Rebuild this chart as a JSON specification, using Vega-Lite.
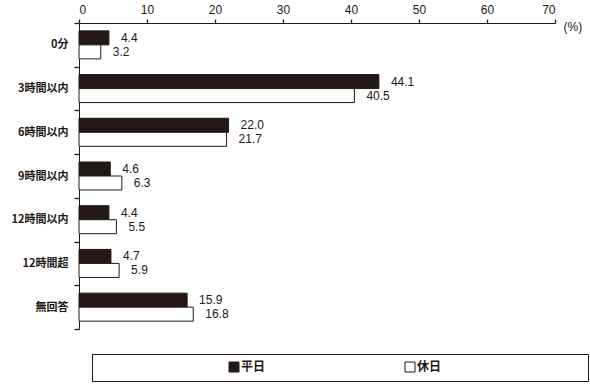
{
  "$schema": "https://vega.github.io/schema/vega-lite/v6.json",
  "width": 476,
  "height": 306,
  "autosize": {"type": "none"},
  "padding": {"left": 79, "top": 23, "right": 35, "bottom": 61},
  "background": "white",
  "config": {"view": {"stroke": null}},
  "data": {"values": [
    {"cat": "0分", "series": "平日", "value": 4.4},
    {"cat": "0分", "series": "休日", "value": 3.2},
    {"cat": "3時間以内", "series": "平日", "value": 44.1},
    {"cat": "3時間以内", "series": "休日", "value": 40.5},
    {"cat": "6時間以内", "series": "平日", "value": 22.0},
    {"cat": "6時間以内", "series": "休日", "value": 21.7},
    {"cat": "9時間以内", "series": "平日", "value": 4.6},
    {"cat": "9時間以内", "series": "休日", "value": 6.3},
    {"cat": "12時間以内", "series": "平日", "value": 4.4},
    {"cat": "12時間以内", "series": "休日", "value": 5.5},
    {"cat": "12時間超", "series": "平日", "value": 4.7},
    {"cat": "12時間超", "series": "休日", "value": 5.9},
    {"cat": "無回答", "series": "平日", "value": 15.9},
    {"cat": "無回答", "series": "休日", "value": 16.8}
  ]},
  "encoding": {
    "y": {
      "field": "cat", "type": "nominal",
      "sort": ["0分", "3時間以内", "6時間以内", "9時間以内", "12時間以内", "12時間超", "無回答"],
      "scale": {"paddingInner": 0, "paddingOuter": 0},
      "axis": {
        "title": null, "domainColor": "#231815", "tickColor": "#231815",
        "tickBand": "extent", "tickSize": 5, "tickWidth": 1.3, "labelPadding": 6,
        "labelFont": "Noto Sans CJK JP", "labelFontSize": 11, "labelFontWeight": "bold",
        "labelColor": "#231815"
      }
    },
    "yOffset": {
      "field": "series", "type": "nominal", "sort": ["平日", "休日"],
      "scale": {"paddingOuter": 0.56, "paddingInner": 0}
    },
    "x": {
      "field": "value", "type": "quantitative",
      "scale": {"domain": [0, 70], "nice": false},
      "axis": {
        "orient": "top", "tickCount": 7, "grid": false,
        "domainColor": "#231815", "tickColor": "#231815", "tickSize": 4, "tickWidth": 1.3, "labelPadding": 3,
        "labelFont": "Liberation Sans", "labelFontSize": 12, "labelColor": "#231815",
        "title": "(%)", "titleX": 484, "titleY": 3, "titleAngle": 0, "titleAlign": "left",
        "titleBaseline": "middle", "titleFont": "Liberation Sans", "titleFontSize": 12,
        "titleFontWeight": "normal", "titleColor": "#231815"
      }
    }
  },
  "layer": [
    {
      "mark": {"type": "bar", "stroke": "#231815", "strokeWidth": 1},
      "encoding": {
        "fill": {
          "field": "series", "type": "nominal",
          "scale": {"domain": ["平日", "休日"], "range": ["#231815", "#ffffff"]},
          "legend": {
            "orient": "none", "legendX": 13, "legendY": 331, "direction": "horizontal",
            "title": "\u00a0", "titleOrient": "right", "titlePadding": 140,
            "symbolType": "square", "symbolSize": 100, "symbolStrokeColor": "#231815",
            "symbolStrokeWidth": 1, "symbolOffset": 129, "labelOffset": 1, "columnPadding": 9,
            "labelFont": "Noto Sans CJK JP", "labelFontSize": 12, "labelFontWeight": "bold",
            "labelColor": "#231815", "strokeColor": "#231815", "padding": 7, "fillColor": "white"
          }
        }
      }
    },
    {
      "mark": {"type": "text", "align": "left", "dx": 12, "font": "Liberation Sans", "fontSize": 12, "fill": "#231815"},
      "encoding": {"text": {"field": "value", "type": "quantitative", "format": ".1f"}}
    }
  ]
}
